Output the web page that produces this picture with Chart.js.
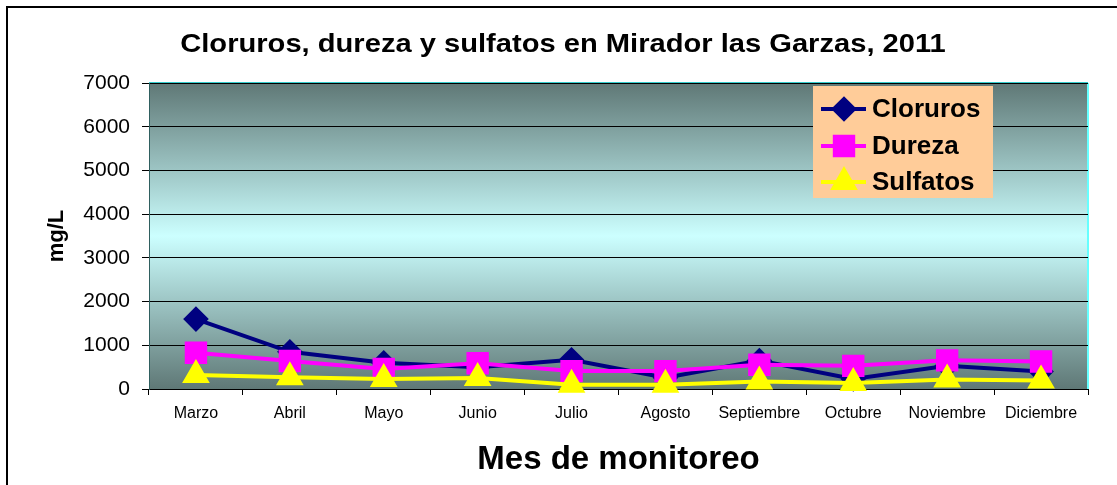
<!DOCTYPE html>
<html lang="es">
<head>
    <meta charset="UTF-8">
    <title>Cloruros, dureza y sulfatos</title>
    <script src="https://cdn.jsdelivr.net/npm/chart.js"></script>
    <style>
        html, body { margin: 0; padding: 0; background: #fff; }
        #wrap { width: 1117px; height: 485px; }
    </style>
</head>
<body>
    <div id="wrap"><canvas id="myChart" width="1117" height="485"></canvas></div>
    <script>
        const meses = ['Marzo', 'Abril', 'Mayo', 'Junio', 'Julio', 'Agosto', 'Septiembre', 'Octubre', 'Noviembre', 'Diciembre'];
        const cloruros = [1600, 850, 600, 500, 670, 260, 650, 230, 530, 400];
        const dureza = [830, 640, 460, 590, 410, 410, 555, 530, 655, 630];
        const sulfatos = [320, 270, 230, 250, 95, 95, 170, 135, 220, 195];
        const yTicks = [0, 1000, 2000, 3000, 4000, 5000, 6000, 7000];

        const fuente = "Arial, 'Liberation Sans', sans-serif";

        // marco, fondo degradado del area, titulo y leyenda
        const extras = {
            id: 'extras',
            beforeDraw(chart) {
                const c = chart.ctx;
                const a = chart.chartArea;
                c.save();
                c.strokeStyle = '#000';
                c.lineWidth = 2;
                c.strokeRect(7, 7, 1300, 700);

                const g = c.createLinearGradient(0, a.top, 0, a.bottom);
                g.addColorStop(0, '#5f7876');
                g.addColorStop(0.5, '#ccffff');
                g.addColorStop(1, '#5f7876');
                c.fillStyle = g;
                c.fillRect(a.left, a.top, a.right - a.left, a.bottom - a.top);

                c.lineWidth = 2;
                c.strokeStyle = '#33cccc';
                c.beginPath();
                c.moveTo(a.left, a.top);
                c.lineTo(a.right, a.top);
                c.stroke();
                c.strokeStyle = '#66ffff';
                c.beginPath();
                c.moveTo(a.right, a.top);
                c.lineTo(a.right, a.bottom);
                c.stroke();

                // titulo algo ensanchado
                c.fillStyle = '#000';
                c.font = 'bold 26px ' + fuente;
                c.textAlign = 'center';
                c.textBaseline = 'middle';
                c.translate(563, 45);
                c.scale(1.12, 1);
                c.fillText('Cloruros, dureza y sulfatos en Mirador las Garzas, 2011', 0, 0);
                c.restore();
            },
            afterDraw(chart) {
                const c = chart.ctx;
                c.save();
                c.fillStyle = '#ffcc99';
                c.fillRect(813, 86, 180, 112);
                const filas = [109, 146, 182];
                chart.data.datasets.forEach(function (ds, i) {
                    const y = filas[i];
                    c.strokeStyle = ds.borderColor;
                    c.lineWidth = 4;
                    c.beginPath();
                    c.moveTo(821, y);
                    c.lineTo(866, y);
                    c.stroke();
                    Chart.helpers.drawPoint(c, {
                        pointStyle: ds.pointStyle,
                        radius: ds.pointRadius,
                        borderWidth: 1
                    }, 844, y);
                    c.fillStyle = ds.pointBackgroundColor;
                    c.fill();
                    c.fillStyle = '#000';
                    c.font = 'bold 26px ' + fuente;
                    c.textAlign = 'left';
                    c.textBaseline = 'middle';
                    c.fillText(ds.label, 872, y + 1);
                });
                c.restore();
            }
        };

        const ctx = document.getElementById('myChart');

        new Chart(ctx, {
            type: 'line',
            data: {
                labels: meses,
                datasets: [{
                    label: 'Cloruros',
                    data: cloruros,
                    borderColor: '#000080',
                    backgroundColor: '#000080',
                    pointBackgroundColor: '#000080',
                    pointBorderColor: '#000080',
                    pointStyle: 'rectRot',
                    pointRadius: 10,
                    borderWidth: 4,
                    order: 2
                }, {
                    label: 'Dureza',
                    data: dureza,
                    borderColor: '#ff00ff',
                    backgroundColor: '#ff00ff',
                    pointBackgroundColor: '#ff00ff',
                    pointBorderColor: '#ff00ff',
                    pointStyle: 'rect',
                    pointRadius: 13,
                    borderWidth: 4,
                    order: 1
                }, {
                    label: 'Sulfatos',
                    data: sulfatos,
                    borderColor: '#ffff00',
                    backgroundColor: '#ffff00',
                    pointBackgroundColor: '#ffff00',
                    pointBorderColor: '#ffff00',
                    pointStyle: 'triangle',
                    pointRadius: 12,
                    borderWidth: 4,
                    order: 0
                }]
            },
            options: {
                responsive: false,
                animation: false,
                clip: false,
                layout: { padding: { left: 0, top: 83, right: 29, bottom: 0 } },
                plugins: {
                    legend: { display: false },
                    title: { display: false },
                    tooltip: { enabled: false }
                },
                elements: { line: { tension: 0 } },
                scales: {
                    x: {
                        offset: true,
                        grid: {
                            offset: true,
                            drawOnChartArea: false,
                            color: '#000',
                            tickLength: 6
                        },
                        border: { color: '#000', width: 1 },
                        ticks: {
                            color: '#000',
                            font: { family: fuente, size: 16 },
                            padding: 9,
                            maxRotation: 0,
                            autoSkip: false
                        },
                        title: {
                            display: true,
                            text: 'Mes de monitoreo',
                            color: '#000',
                            font: { family: fuente, size: 33, weight: 'bold' },
                            padding: { top: 0, bottom: 5 }
                        },
                        afterFit(scale) { scale.height = 96; }
                    },
                    y: {
                        min: 0,
                        max: 7000,
                        afterBuildTicks(scale) {
                            scale.ticks = yTicks.map(v => ({ value: v }));
                        },
                        grid: {
                            color: '#000',
                            lineWidth: 1,
                            tickLength: 7
                        },
                        border: { color: '#2f5f5f', width: 1 },
                        ticks: {
                            color: '#000',
                            font: { family: fuente, size: 21 },
                            padding: 12,
                            callback: v => String(v)
                        },
                        title: {
                            display: true,
                            text: 'mg/L',
                            color: '#000',
                            font: { family: fuente, size: 22, weight: 'bold' },
                            padding: { top: 44, bottom: 0 }
                        },
                        afterFit(scale) { scale.width = 149; }
                    }
                }
            },
            plugins: [extras]
        });
    </script>
</body>
</html>
